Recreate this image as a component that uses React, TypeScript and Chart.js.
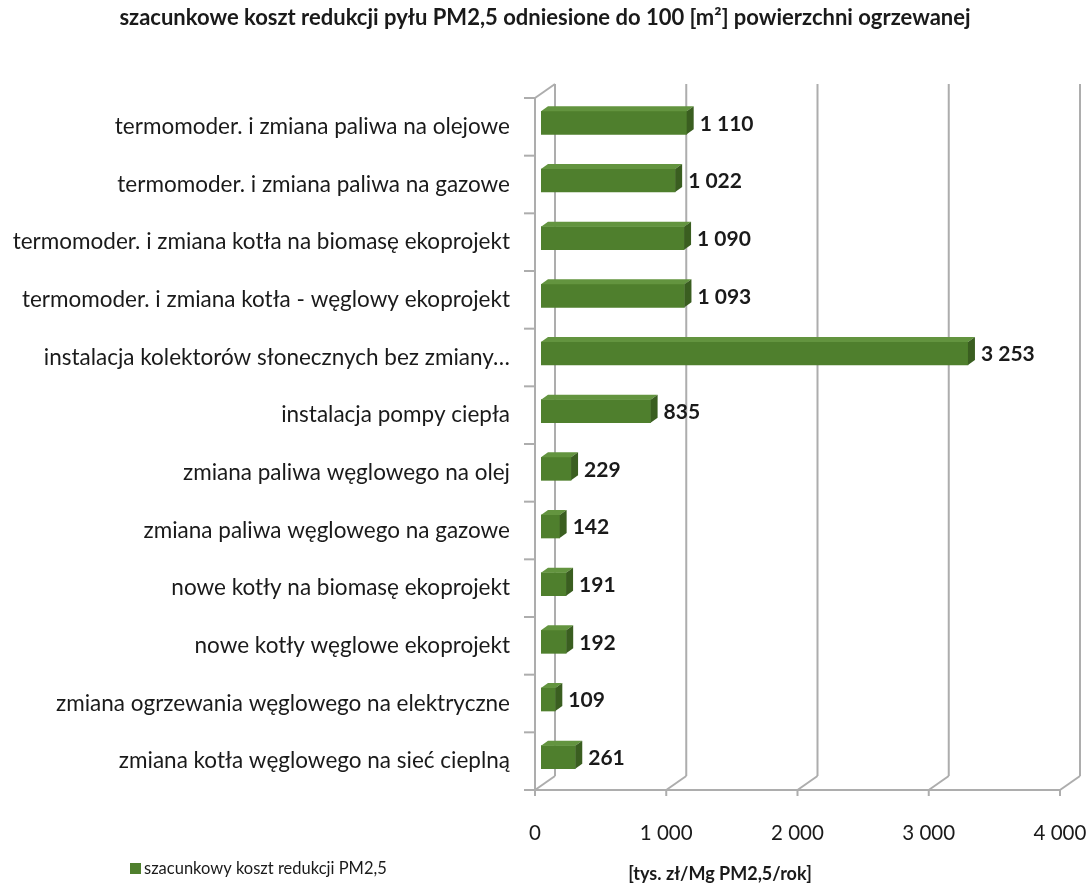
import React, { useEffect, useRef } from 'react';
import { Chart, registerables } from 'chart.js';

Chart.register(...registerables);

const categories = [
  'termomoder. i zmiana paliwa na olejowe',
  'termomoder. i zmiana paliwa na gazowe',
  'termomoder. i zmiana kotła na biomasę ekoprojekt',
  'termomoder. i zmiana kotła - węglowy ekoprojekt',
  'instalacja kolektorów słonecznych bez zmiany…',
  'instalacja pompy ciepła',
  'zmiana paliwa węglowego na olej',
  'zmiana paliwa węglowego na gazowe',
  'nowe kotły na biomasę ekoprojekt',
  'nowe kotły węglowe ekoprojekt',
  'zmiana ogrzewania węglowego na elektryczne',
  'zmiana kotła węglowego na sieć cieplną',
];

const values = [1110, 1022, 1090, 1093, 3253, 835, 229, 142, 191, 192, 109, 261];

const xTicks = [0, 1000, 2000, 3000, 4000];

const seriesName = 'szacunkowy koszt redukcji PM2,5';
const titleText = 'szacunkowe koszt redukcji pyłu PM2,5 odniesione do 100 [m²] powierzchni ogrzewanej';
const axisTitle = '[tys. zł/Mg PM2,5/rok]';

const FONT = 'Lato, "Open Sans", sans-serif';
const FRONT = '#4F7F2D';
const TOP = '#63943F';
const SIDE = '#3A5E20';
const GRID = '#ADADAD';
const TEXT = '#1a1a1a';

const WALL = { x: 20, y: -14 };
const SHIFT = { x: 6, y: -4 };
const BDEPTH = { x: 7, y: -5 };

const fmt = (v: number) => String(v).replace(/\B(?=(\d{3})+(?!\d))/g, ' ');

const pseudo3d = {
  id: 'pseudo3d',
  beforeDatasetsDraw(chart: any) {
    const { ctx, chartArea, scales } = chart;
    const { top, bottom, left } = chartArea;
    const xs = scales.x;
    const line = (a: number, b: number, c: number, d: number) => {
      ctx.beginPath();
      ctx.moveTo(a, b);
      ctx.lineTo(c, d);
      ctx.stroke();
    };
    ctx.save();
    ctx.strokeStyle = GRID;
    ctx.lineWidth = 2;
    xTicks.forEach((v) => {
      const px = xs.getPixelForValue(v);
      line(px + WALL.x, top + WALL.y, px + WALL.x, bottom + WALL.y);
      line(px, bottom, px + WALL.x, bottom + WALL.y);
      line(px, bottom, px, bottom + 6);
    });
    line(left, top, left, bottom);
    line(left, top, left + WALL.x, top + WALL.y);
    line(left, bottom, xs.getPixelForValue(xTicks[xTicks.length - 1]), bottom);
    const n = categories.length;
    for (let i = 0; i <= n; i++) {
      const yy = top + (i * (bottom - top)) / n;
      line(left - 11, yy, left, yy);
    }
    ctx.restore();
    ctx.save();
    ctx.translate(SHIFT.x, SHIFT.y);
  },
  afterDatasetsDraw(chart: any) {
    const { ctx } = chart;
    const meta = chart.getDatasetMeta(0);
    meta.data.forEach((bar: any, i: number) => {
      const p = bar.getProps(['x', 'y', 'base', 'height'], true);
      const t = p.y - p.height / 2;
      const b = p.y + p.height / 2;
      ctx.fillStyle = TOP;
      ctx.beginPath();
      ctx.moveTo(p.base, t);
      ctx.lineTo(p.x, t);
      ctx.lineTo(p.x + BDEPTH.x, t + BDEPTH.y);
      ctx.lineTo(p.base + BDEPTH.x, t + BDEPTH.y);
      ctx.closePath();
      ctx.fill();
      ctx.fillStyle = SIDE;
      ctx.beginPath();
      ctx.moveTo(p.x, t);
      ctx.lineTo(p.x + BDEPTH.x, t + BDEPTH.y);
      ctx.lineTo(p.x + BDEPTH.x, b + BDEPTH.y);
      ctx.lineTo(p.x, b);
      ctx.closePath();
      ctx.fill();
      ctx.fillStyle = TEXT;
      ctx.font = `bold 21px ${FONT}`;
      ctx.textAlign = 'left';
      ctx.textBaseline = 'middle';
      ctx.fillText(fmt(values[i]), p.x + BDEPTH.x + 6, p.y + 1);
    });
    ctx.restore();
  },
  afterDraw(chart: any) {
    const { ctx } = chart;
    ctx.save();
    ctx.fillStyle = TEXT;
    ctx.textBaseline = 'middle';
    ctx.textAlign = 'center';
    ctx.font = `bold 22px ${FONT}`;
    ctx.fillText(titleText, 545, 18);
    ctx.font = `bold 18px ${FONT}`;
    ctx.fillText(axisTitle, 720, 874);
    ctx.fillStyle = FRONT;
    ctx.fillRect(130, 863, 11, 11);
    ctx.fillStyle = TEXT;
    ctx.textAlign = 'left';
    ctx.font = `16.5px ${FONT}`;
    ctx.fillText(seriesName, 144, 869);
    ctx.restore();
  },
};

export default function App() {
  const ref = useRef<HTMLCanvasElement | null>(null);
  useEffect(() => {
    if (!ref.current) return;
    const chart = new Chart(ref.current, {
      type: 'bar',
      data: {
        labels: categories,
        datasets: [
          {
            label: seriesName,
            data: values,
            backgroundColor: FRONT,
            borderWidth: 0,
            barThickness: 23,
          },
        ],
      },
      options: {
        indexAxis: 'y',
        responsive: false,
        animation: false,
        layout: { padding: { top: 98, right: 28, bottom: 38, left: 0 } },
        plugins: {
          legend: { display: false },
          title: { display: false },
          tooltip: { enabled: false },
        },
        scales: {
          x: {
            min: 0,
            max: 4000,
            border: { display: false },
            grid: { display: false, drawTicks: false },
            ticks: {
              stepSize: 1000,
              padding: 31,
              color: TEXT,
              font: { family: FONT, size: 20.5 },
              callback: (v: any) => fmt(Number(v)),
            },
            afterFit: (s: any) => {
              s.height = 60;
              s.paddingLeft = 0;
              s.paddingRight = 0;
            },
          },
          y: {
            border: { display: false },
            grid: { display: false, drawTicks: false },
            ticks: {
              padding: 25,
              color: TEXT,
              font: { family: FONT, size: 22.5 },
              autoSkip: false,
            },
            afterFit: (s: any) => {
              s.width = 535;
              s.paddingTop = 0;
              s.paddingBottom = 0;
            },
          },
        },
      },
      plugins: [pseudo3d],
    });
    return () => chart.destroy();
  }, []);
  return (
    <div style={{ position: 'absolute', left: 0, top: 0, width: 1088, height: 888, background: '#fff' }}>
      <canvas ref={ref} width={1088} height={888} />
    </div>
  );
}
